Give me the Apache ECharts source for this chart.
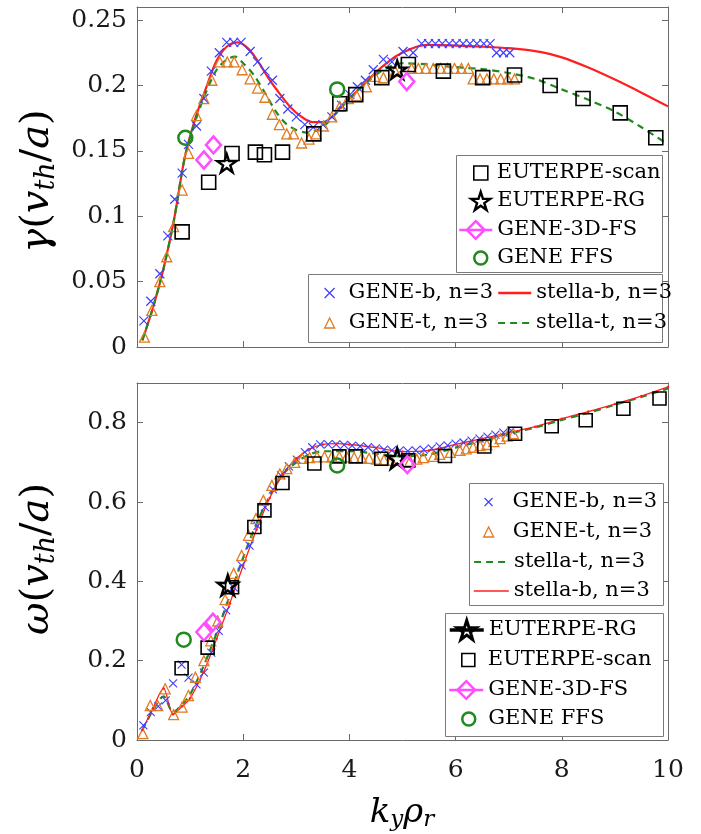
<!DOCTYPE html>
<html><head><meta charset="utf-8">
<script src="https://cdn.jsdelivr.net/npm/echarts@6/dist/echarts.min.js"></script>
<style>html,body{margin:0;padding:0;background:#fff}#c{width:701px;height:834px}</style>
</head><body><div id="c"></div>
<script>
// ---------- Top panel: growth rate gamma ----------
const topGeneBK = [0.13,0.26,0.43,0.58,0.71,0.85,0.97,1.12,1.26,1.40,1.55,1.69,1.82,1.96,2.13,2.27,2.41,2.55,2.69,2.84,3.00,3.16,3.32,3.50,3.67,3.85,4.01,4.15,4.30,4.45,4.64,4.80,5.01,5.20,5.36,5.49,5.62,5.75,5.88,6.01,6.14,6.27,6.40,6.53,6.65,6.77,6.90,7.02];
const topGeneBV = [0.020,0.035,0.056,0.085,0.113,0.133,0.155,0.169,0.190,0.211,0.225,0.233,0.233,0.233,0.226,0.218,0.211,0.204,0.190,0.182,0.176,0.170,0.168,0.170,0.176,0.185,0.193,0.199,0.204,0.212,0.220,0.218,0.226,0.225,0.232,0.232,0.232,0.232,0.232,0.232,0.232,0.232,0.232,0.232,0.232,0.225,0.225,0.225];
const topGeneTK = [0.14,0.28,0.43,0.56,0.69,0.85,0.97,1.12,1.26,1.41,1.56,1.70,1.83,1.98,2.13,2.27,2.41,2.55,2.68,2.82,2.95,3.10,3.24,3.37,3.51,3.67,3.82,3.98,4.14,4.32,4.48,4.64,4.86,5.17,5.30,5.44,5.58,5.72,5.85,5.98,6.11,6.24,6.33,6.46,6.59,6.72,6.85,6.98,7.11];
const topGeneTV = [0.0075,0.028,0.050,0.069,0.092,0.120,0.148,0.177,0.190,0.204,0.218,0.218,0.218,0.212,0.205,0.198,0.191,0.178,0.170,0.163,0.163,0.156,0.159,0.163,0.169,0.176,0.184,0.190,0.192,0.199,0.207,0.206,0.211,0.213,0.213,0.213,0.213,0.213,0.213,0.213,0.213,0.213,0.205,0.205,0.205,0.205,0.205,0.205,0.205];
const topStellaBK = [0.1,0.3,0.5,0.7,0.9,1.1,1.3,1.5,1.7,1.9,2.1,2.3,2.5,2.7,2.9,3.1,3.3,3.5,3.7,3.9,4.1,4.3,4.5,4.7,4.9,5.1,5.3,5.5,6.0,6.5,7.0,7.5,8.0,8.5,9.0,9.5,10.0];
const topStellaBV = [0.005,0.030,0.060,0.098,0.145,0.175,0.198,0.219,0.230,0.233,0.228,0.217,0.204,0.193,0.183,0.176,0.172,0.172,0.177,0.186,0.194,0.202,0.210,0.217,0.223,0.227,0.230,0.231,0.2305,0.2297,0.2285,0.2262,0.2215,0.2137,0.2045,0.1945,0.184];
const topStellaTK = [0.1,0.3,0.5,0.7,0.9,1.1,1.3,1.5,1.7,1.85,2.0,2.2,2.4,2.6,2.8,3.0,3.2,3.4,3.6,3.8,4.0,4.2,4.4,4.6,4.8,5.0,5.5,6.0,6.5,7.0,7.5,8.0,8.5,9.0,9.5,10.0];
const topStellaTV = [0.005,0.030,0.060,0.098,0.145,0.173,0.195,0.212,0.220,0.222,0.217,0.208,0.195,0.181,0.171,0.166,0.164,0.166,0.172,0.181,0.190,0.198,0.205,0.211,0.215,0.217,0.216,0.214,0.2125,0.2095,0.205,0.197,0.189,0.180,0.168,0.155];
const topScanK = [0.85,1.35,1.79,2.23,2.40,2.74,3.33,3.82,4.12,4.61,5.11,5.77,6.51,7.11,7.78,8.40,9.10,9.77];
const topScanV = [0.088,0.126,0.148,0.149,0.147,0.149,0.163,0.186,0.193,0.206,0.216,0.211,0.206,0.208,0.200,0.190,0.179,0.160];
const topRGK = [1.69,4.90];
const topRGV = [0.1405,0.212];
const top3DK = [1.26,1.44,5.08];
const top3DV = [0.143,0.1545,0.203];
const topFFSK = [0.91,3.77];
const topFFSV = [0.160,0.197];

// ---------- Bottom panel: frequency omega ----------
const botGeneBK = [0.12,0.26,0.40,0.54,0.68,0.84,0.97,1.12,1.26,1.40,1.54,1.68,1.82,1.97,2.12,2.27,2.41,2.56,2.71,2.86,3.01,3.16,3.30,3.45,3.60,3.75,3.90,4.05,4.20,4.35,4.50,4.65,4.80,4.95,5.10,5.25,5.40,5.55,5.70,5.85,6.00,6.15,6.30,6.45,6.60,6.75,6.90,7.05];
const botGeneBV = [0.037,0.070,0.085,0.100,0.143,0.190,0.157,0.140,0.170,0.220,0.275,0.327,0.385,0.440,0.490,0.540,0.587,0.632,0.667,0.690,0.707,0.726,0.738,0.745,0.745,0.745,0.744,0.742,0.740,0.738,0.735,0.732,0.730,0.730,0.728,0.730,0.732,0.735,0.740,0.743,0.747,0.750,0.755,0.760,0.765,0.770,0.775,0.780];
const botGeneTK = [0.11,0.25,0.39,0.53,0.69,0.85,0.97,1.10,1.26,1.39,1.52,1.66,1.82,1.97,2.10,2.24,2.38,2.54,2.69,2.82,2.97,3.11,3.25,3.39,3.53,3.67,3.81,3.95,4.09,4.23,4.37,4.51,4.65,4.79,5.14,5.27,5.39,5.58,5.70,5.90,6.08,6.20,6.33,6.46,6.59,6.72,6.84,6.97,7.09];
const botGeneTV = [0.016,0.087,0.087,0.129,0.064,0.083,0.112,0.158,0.200,0.250,0.300,0.354,0.420,0.465,0.516,0.558,0.604,0.642,0.671,0.684,0.700,0.710,0.712,0.714,0.714,0.714,0.714,0.714,0.712,0.712,0.710,0.708,0.706,0.705,0.703,0.708,0.712,0.715,0.720,0.725,0.730,0.734,0.738,0.742,0.745,0.752,0.760,0.766,0.772];
const botStellaBK = [0.1,0.3,0.5,0.68,0.85,1.0,1.25,1.5,1.75,2.0,2.25,2.5,2.75,3.0,3.25,3.5,3.75,4.0,4.5,5.0,5.5,6.0,6.5,7.0,7.5,8.0,8.5,9.0,9.5,10.0];
const botStellaBV = [0.025,0.080,0.130,0.065,0.085,0.105,0.170,0.255,0.345,0.440,0.530,0.610,0.670,0.710,0.733,0.745,0.747,0.745,0.737,0.727,0.730,0.745,0.760,0.775,0.790,0.810,0.828,0.847,0.867,0.890];
const botStellaTK = [0.1,0.3,0.5,0.68,0.85,1.0,1.25,1.5,1.75,2.0,2.25,2.5,2.75,3.0,3.25,3.5,4.0,4.5,5.0,5.5,6.0,6.5,7.0,7.5,8.0,8.5,9.0,9.5,10.0];
const botStellaTV = [0.025,0.075,0.110,0.070,0.090,0.115,0.185,0.270,0.365,0.460,0.545,0.615,0.670,0.700,0.720,0.728,0.728,0.722,0.715,0.720,0.737,0.755,0.772,0.788,0.807,0.825,0.845,0.865,0.886];
const botScanK = [0.84,1.33,1.79,2.21,2.40,2.74,3.34,3.81,4.12,4.60,5.11,5.80,6.54,7.12,7.81,8.45,9.16,9.84];
const botScanV = [0.181,0.233,0.385,0.537,0.579,0.648,0.697,0.715,0.715,0.709,0.705,0.716,0.740,0.772,0.791,0.806,0.835,0.861];
const botRGK = [1.71,4.90];
const botRGV = [0.390,0.710];
const bot3DK = [1.26,1.43,5.09];
const bot3DV = [0.272,0.297,0.694];
const botFFSK = [0.88,3.77];
const botFFSV = [0.253,0.692];

// ---------- Axes ticks ----------
const xTicks = {min:0, max:10, interval:2};
const gammaTicks = {min:0, max:0.26, interval:0.05};
const omegaTicks = {min:0, max:0.9, interval:0.2};

// ---------- styling ----------
const FONT = 'DejaVu Serif';
const AX = '#6a6a6a';
const BLUE = '#3d3dff', ORANGE = '#e07b22', RED = '#ff1f1f', GREEN = '#1f8a1f', MAG = '#ff4dff';
const CLEAR = 'rgba(0,0,0,0)';
const XSYM = 'path://M0,0L10,10M10,0L0,10';
const STAR = 'path://M50,0L61.2,34.6L97.6,34.5L68.1,55.9L79.4,90.5L50,69L20.6,90.5L31.9,55.9L2.4,34.5L38.8,34.6Z';

const pts = (ks, vs) => ks.map((k, i) => [k, vs[i]]);

function xAx(grid, pos, labels) {
  return Object.assign({gridIndex:grid, type:'value', position:pos,
    axisLine:{show:true, onZero:false, lineStyle:{color:AX, width:1}},
    axisTick:{show:true, inside:true, length:6, lineStyle:{color:AX}},
    axisLabel:{show:labels, margin:18, fontFamily:FONT, fontSize:25, color:'#1a1a1a'},
    splitLine:{show:false}}, xTicks);
}
function yAx(grid, pos, labels, ticks) {
  return Object.assign({gridIndex:grid, type:'value', position:pos,
    axisLine:{show:true, onZero:false, lineStyle:{color:AX, width:1}},
    axisTick:{show:true, inside:true, length:6, lineStyle:{color:AX}},
    axisLabel:{show:labels, margin:10, fontFamily:FONT, fontSize:25, color:'#1a1a1a', showMaxLabel:false},
    splitLine:{show:false}}, ticks);
}

function scat(name, ks, vs, ax, symbol, size, color, bw) {
  return {name, type:'scatter', xAxisIndex:ax, yAxisIndex:ax, data:pts(ks, vs),
    symbol, symbolSize:size, symbolKeepAspect:true,
    itemStyle:{color:CLEAR, borderColor:color, borderWidth:bw, opacity:1}, z:2};
}
function markLine(name, ks, vs, ax, symbol, size, color, bw) {
  return {name, type:'line', xAxisIndex:ax, yAxisIndex:ax, data:pts(ks, vs),
    symbol, symbolSize:size, showSymbol:true, showAllSymbol:true,
    lineStyle:{width:0, color:color},
    itemStyle:{color:CLEAR, borderColor:color, borderWidth:bw, opacity:1}, z:3};
}
function curve(name, ks, vs, ax, color, width, type, sym, symSize) {
  return {name, type:'line', xAxisIndex:ax, yAxisIndex:ax, data:pts(ks, vs),
    symbol: sym || 'none', symbolSize: symSize || 0, showSymbol: !!sym, smooth:0.3,
    lineStyle:{color, width, type}, itemStyle:{color}, z:2};
}

const series = [
  scat('GENE-b, n=3', topGeneBK, topGeneBV, 0, XSYM, 9, BLUE, 1.2),
  scat('GENE-t, n=3', topGeneTK, topGeneTV, 0, 'triangle', 10, ORANGE, 1.3),
  curve('stella-b, n=3', topStellaBK, topStellaBV, 0, RED, 2.2, 'solid'),
  curve('stella-t, n=3', topStellaTK, topStellaTV, 0, GREEN, 2.2, [7,5]),
  scat('EUTERPE-scan', topScanK, topScanV, 0, 'rect', 14, '#000', 1.6),
  scat('EUTERPE-RG', topRGK, topRGV, 0, STAR, 19, '#000', 2.4),
  markLine('GENE-3D-FS', top3DK, top3DV, 0, 'diamond', [15,17], MAG, 2.5),
  scat('GENE FFS', topFFSK, topFFSV, 0, 'circle', 14, GREEN, 2.5),

  scat('GENE-b, n=3#2', botGeneBK, botGeneBV, 2, XSYM, 8, BLUE, 1.1),
  scat('GENE-t, n=3#2', botGeneTK, botGeneTV, 2, 'triangle', 10, ORANGE, 1.3),
  curve('stella-t, n=3#2', botStellaTK, botStellaTV, 2, GREEN, 2.2, [7,5]),
  curve('stella-b, n=3#2', botStellaBK, botStellaBV, 2, RED, 1.3, 'solid', 'circle', 2.5),
  markLine('EUTERPE-RG#2', botRGK, botRGV, 2, STAR, 20, '#000', 2.6),
  scat('EUTERPE-scan#2', botScanK, botScanV, 2, 'rect', 13, '#000', 1.6),
  markLine('GENE-3D-FS#2', bot3DK, bot3DV, 2, 'diamond', [15,17], MAG, 2.5),
  scat('GENE FFS#2', botFFSK, botFFSV, 2, 'circle', 14, GREEN, 2.5)
];

// one legend component per entry, so each row sits where the reference puts it
function leg(name, left, cy, W, H, padL, extra) {
  return Object.assign({show:true, orient:'horizontal', left, top: cy - Math.max(H, 24) / 2,
    padding:0, itemWidth:W, itemHeight:H, itemGap:0, selectedMode:false, z:10, symbolKeepAspect:true,
    data:[name], formatter: n => n.split('#')[0],
    textStyle:{fontFamily:FONT, fontSize:21, lineHeight:24, color:'#000', padding:[0,0,0,padL]}}, extra || {});
}
const LINEONLY = {itemStyle:{opacity:0}};
const legends = [
  leg('EUTERPE-scan', 473, 173, 14, 14, 4, {itemStyle:{borderWidth:1.6}}),
  leg('EUTERPE-RG', 470, 201, 19, 19, 2, {itemStyle:{borderWidth:2.4}}),
  leg('GENE-3D-FS', 458, 230, 33, 22, 0, {lineStyle:{width:2.5}, itemStyle:{borderWidth:2.5}}),
  leg('GENE FFS', 473, 258, 13, 13, 5, {itemStyle:{borderWidth:2.5}}),
  leg('GENE-b, n=3', 324, 293, 10, 10, 9, {itemStyle:{borderWidth:1.2}}),
  leg('GENE-t, n=3', 324, 323, 10, 10, 9, {itemStyle:{borderWidth:1.3}}),
  leg('stella-b, n=3', 497, 293, 33, 14, 0, Object.assign({lineStyle:{width:2.5}}, LINEONLY)),
  leg('stella-t, n=3', 497, 323, 33, 14, 0, Object.assign({lineStyle:{width:2.2}}, LINEONLY)),

  leg('GENE-b, n=3#2', 484, 502, 8, 8, 15, {itemStyle:{borderWidth:1.1}}),
  leg('GENE-t, n=3#2', 483, 532, 10, 10, 14, {itemStyle:{borderWidth:1.3}}),
  leg('stella-t, n=3#2', 473, 562, 35, 14, 0, Object.assign({lineStyle:{width:2.2}}, LINEONLY)),
  leg('stella-b, n=3#2', 473, 591, 35, 14, 0, Object.assign({lineStyle:{width:1.6}}, LINEONLY)),
  leg('EUTERPE-RG#2', 448, 630, 34, 24, 0, {lineStyle:{width:3.5}, itemStyle:{borderWidth:3}}),
  leg('EUTERPE-scan#2', 461, 660, 13, 13, 8, {itemStyle:{borderWidth:1.6}}),
  leg('GENE-3D-FS#2', 448, 690, 34, 22, 0, {lineStyle:{width:2.5}, itemStyle:{borderWidth:2.5}}),
  leg('GENE FFS#2', 461, 719, 13, 13, 8, {itemStyle:{borderWidth:2.5}})
];

function box(x, y, w, h) {
  return {type:'rect', z:6, shape:{x:x+0.5, y:y+0.5, width:w, height:h},
    style:{fill:'#fff', stroke:'#7a7a7a', lineWidth:1}};
}
const mathRich = (big, small, drop) => ({
  i:{fontFamily:FONT, fontStyle:'italic', fontSize:big, fill:'#000'},
  r:{fontFamily:FONT, fontSize:big, fill:'#000'},
  s:{fontFamily:FONT, fontStyle:'italic', fontSize:small, fill:'#000', padding:[drop,0,0,0]}
});
const graphics = [
  box(456, 155, 206, 117),
  box(308, 274, 354, 68),
  box(469, 483, 194, 122),
  box(445, 613, 218, 123),
  {type:'text', x:38, y:181, rotation:Math.PI/2, z:6,
   style:{text:'{i|γ}{r|(}{i|v}{s|th}{r|/}{i|a}{r|)}', rich:mathRich(40, 27, 18), align:'center', verticalAlign:'middle'}},
  {type:'text', x:38, y:559, rotation:Math.PI/2, z:6,
   style:{text:'{i|ω}{r|(}{i|v}{s|th}{r|/}{i|a}{r|)}', rich:mathRich(40, 27, 18), align:'center', verticalAlign:'middle'}},
  {type:'text', x:402, y:813, z:6,
   style:{text:'{i|k}{s|y}{i|ρ}{s|r}', rich:mathRich(34, 23, 15), align:'center', verticalAlign:'middle'}}
];

const option = {
  animation:false,
  backgroundColor:'#fff',
  grid:[
    {left:137, top:7, width:531, height:340},
    {left:137, top:383, width:531, height:357}
  ],
  xAxis:[xAx(0,'bottom',false), xAx(0,'top',false), xAx(1,'bottom',true), xAx(1,'top',false)],
  yAxis:[yAx(0,'left',true,gammaTicks), yAx(0,'right',false,gammaTicks), yAx(1,'left',true,omegaTicks), yAx(1,'right',false,omegaTicks)],
  legend: legends,
  graphic:{elements:graphics},
  series
};
const chart = echarts.init(document.getElementById('c'), null, {renderer:'canvas'});
chart.setOption(option);
</script>
</body></html>
